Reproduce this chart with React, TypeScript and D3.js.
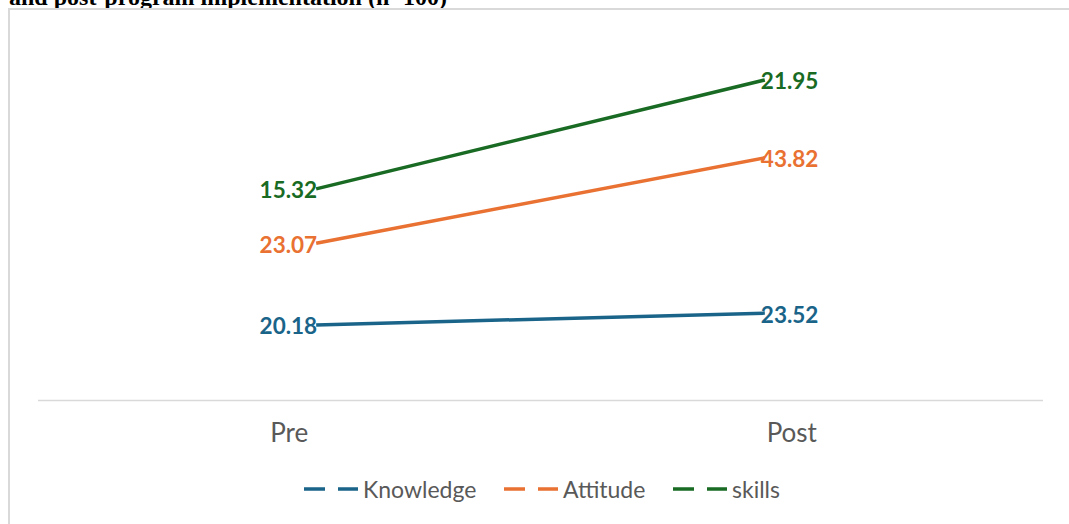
import React from "react";
import * as d3 from "d3";

const categories = ["Pre", "Post"];
const seriesNames = ["Knowledge", "Attitude", "skills"];
const knowledge = [20.18, 23.52];
const attitude = [23.07, 43.82];
const skills = [15.32, 21.95];
const seriesColors = ["#1a6489", "#e97132", "#196b24"];
const titleText = "and post-program implementation (n=100)";

const W = 1069;
const H = 524;

export default function App() {
  const values = [knowledge, attitude, skills];
  // stacked line chart
  const table = categories.map((c, i) => {
    const row: any = { cat: c };
    seriesNames.forEach((s, j) => (row[s] = values[j][i]));
    return row;
  });
  const stack = d3.stack().keys(seriesNames)(table as any);

  const plotLeft = 38;
  const plotRight = 1043;
  const axisY = 400.5;
  const xBand = d3.scaleBand().domain(categories).range([plotLeft, plotRight]).padding(0);
  const xPoint = d3.scalePoint().domain(categories).range([plotLeft, plotRight]).padding(0.62);
  const y = d3.scaleLinear().domain([0, 100]).range([396.5, 42]);

  const line = d3
    .line<any>()
    .x((d) => xPoint(d.data.cat) as number)
    .y((d) => y(d[1]));

  const legendX = [304, 504, 673];

  return (
    <svg
      width={W}
      height={H}
      style={{ position: "absolute", left: 0, top: 0, background: "#fff" }}
      fontFamily="Lato, 'Open Sans', sans-serif"
    >
      <text
        x={9}
        y={5}
        fontFamily="'Liberation Serif', 'Times New Roman', serif"
        fontWeight="bold"
        fontSize={24}
        fill="#000"
      >
        {titleText}
      </text>
      <path d={`M9,${H + 5} V9 H${W + 5}`} fill="none" stroke="#d9d9d9" strokeWidth={2} />
      <line x1={plotLeft} x2={plotRight} y1={axisY} y2={axisY} stroke="#d9d9d9" strokeWidth={1.5} />
      {categories.map((c) => (
        <text
          key={c}
          x={(xBand(c) as number) + xBand.bandwidth() / 2}
          y={442}
          textAnchor="middle"
          fontSize={26}
          fill="#595959"
        >
          {c}
        </text>
      ))}
      {stack.map((s, j) => (
        <g key={seriesNames[j]}>
          <path d={line(s as any) as string} fill="none" stroke={seriesColors[j]} strokeWidth={3.5} />
          {s.map((d: any, i: number) => (
            <text
              key={i}
              x={xPoint(d.data.cat) as number + (i === 0 ? 1 : -4)}
              y={y(d[1]) + 1}
              dominantBaseline="central"
              textAnchor={i === 0 ? "end" : "start"}
              fontSize={22.5}
              fontWeight="bold"
              fill={seriesColors[j]}
            >
              {values[j][i].toFixed(2)}
            </text>
          ))}
        </g>
      ))}
      {seriesNames.map((n, j) => (
        <g key={n} transform={`translate(${legendX[j]},489)`}>
          <line x1={0} x2={54} y1={0} y2={0} stroke={seriesColors[j]} strokeWidth={3.5} strokeDasharray="21,13" />
          <text x={59} y={0} dominantBaseline="central" fontSize={23} fill="#595959">
            {n}
          </text>
        </g>
      ))}
    </svg>
  );
}
